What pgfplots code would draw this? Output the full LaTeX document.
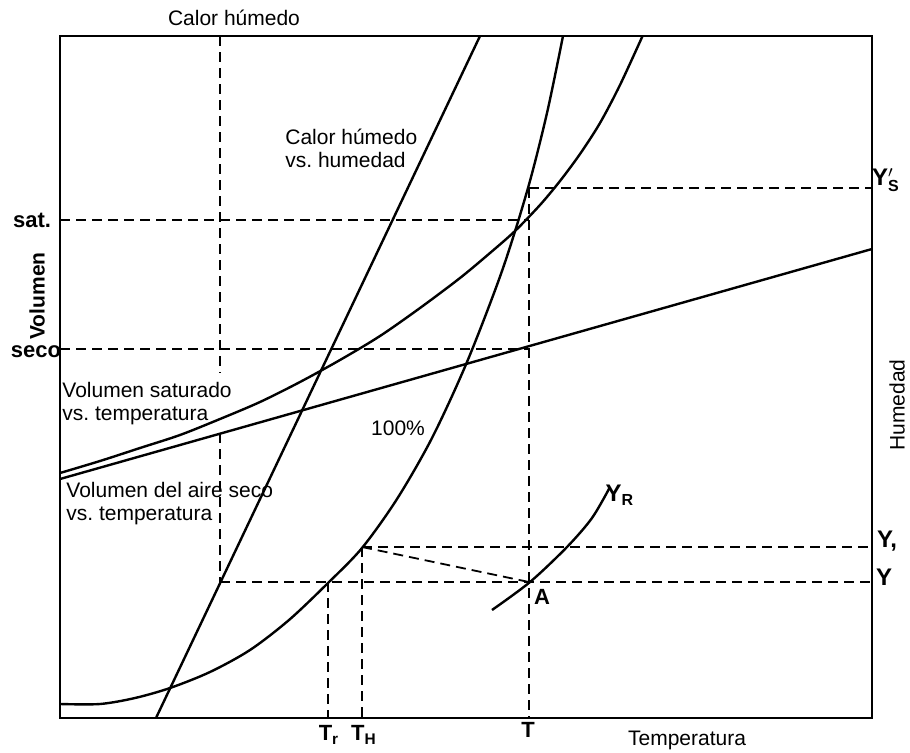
\documentclass[border=0pt]{standalone}
\usepackage{fontspec}
\setmainfont{Liberation Sans}
\usepackage{pgfplots}
\pgfplotsset{compat=1.18}
\begin{document}
\begin{tikzpicture}
\begin{axis}[
  scale only axis, width=406pt, height=341pt,
  xmin=60, xmax=872, ymin=34, ymax=716,
  xtick=\empty, ytick=\empty,
  axis line style={line width=1pt},
  clip mode=individual,
  every axis plot/.append style={black},
  curve/.style={line width=1.2pt, smooth},
  dsh/.style={line width=0.9pt, dash pattern=on 5pt off 3pt},
]
% bounding box of the whole picture (910 x 752)
\path (axis cs:0,0) rectangle (axis cs:910,752);

% humid heat line
\addplot[curve] coordinates {(156,34) (480,716)};
% 100% saturation curve
\addplot[curve] coordinates {(60,48) (100,48) (135,54) (170,64) (210,80) (250,102) (289,132) (328,169) (362,204) (397,253) (432,314) (467,390) (502,481) (528,564) (547,639) (563,716)};
% saturated volume curve
\addplot[curve] coordinates {(60,279) (100,291) (140,304) (180,317) (220,333) (260,350) (300,370) (340,392) (380,416) (420,444) (460,474) (490,499) (515,521) (540,547) (560,571) (580,598) (600,629) (620,667) (643,717)};
% dry air volume line
\addplot[curve] coordinates {(60,273) (872,503)};
% Y_R curve
\addplot[curve] coordinates {(492,142) (530,170) (567,205) (592,234) (610,265)};

% dashed construction lines
\addplot[dsh] coordinates {(220,716) (220,379)};
\addplot[dsh] coordinates {(220,319) (220,170)};
\addplot[dsh] coordinates {(60,532) (529,532)};
\addplot[dsh] coordinates {(60,403) (529,403)};
\addplot[dsh] coordinates {(529,564) (529,34)};
\addplot[dsh] coordinates {(529,564) (872,564)};
\addplot[dsh] coordinates {(220,170) (872,170)};
\addplot[dsh] coordinates {(362,205) (872,205)};
\addplot[dsh] coordinates {(328,170) (328,34)};
\addplot[dsh] coordinates {(362,205) (362,34)};
\addplot[dsh] coordinates {(362,205) (529,170)};

% labels
\tikzset{lab/.style={font=\fontsize{10.5}{11.5}\selectfont, inner sep=0pt}}
\node[lab] at (axis cs:234,734) {Calor húmedo};
\node[lab, anchor=west, align=left] at (axis cs:285,604) {Calor húmedo\\vs.\ humedad};
\node[lab, font=\fontsize{11}{12}\selectfont\bfseries] at (axis cs:32,532) {sat.};
\node[lab, font=\fontsize{11}{12}\selectfont\bfseries] at (axis cs:36,400) {seco};
\node[lab, rotate=90, font=\fontsize{10.5}{11.5}\selectfont\bfseries] at (axis cs:37,456) {Volumen};
\node[lab, anchor=west, align=left] at (axis cs:62,348) {Volumen saturado\\vs.\ temperatura};
\node[lab, anchor=west, align=left] at (axis cs:66,248) {Volumen del aire seco\\vs.\ temperatura};
\node[lab] at (axis cs:398,324) {100\%};
\node[lab, rotate=90] at (axis cs:897,347) {Humedad};
\node[lab, font=\fontsize{12}{13}\selectfont\bfseries] at (axis cs:886,572) {$\mathbf{Y}^{\prime}_{\mathbf{S}}$};
\node[lab, font=\fontsize{12}{13}\selectfont\bfseries] at (axis cs:887,211) {Y,};
\node[lab, font=\fontsize{12}{13}\selectfont\bfseries] at (axis cs:884,175) {Y};
\node[lab, font=\fontsize{11}{12}\selectfont\bfseries] at (axis cs:542,155) {A};
\node[lab, font=\fontsize{12}{13}\selectfont\bfseries] at (axis cs:620,257) {Y\textsubscript{R}};
\node[lab, font=\fontsize{11}{12}\selectfont\bfseries] at (axis cs:329,17) {T\textsubscript{r}};
\node[lab, font=\fontsize{11}{12}\selectfont\bfseries] at (axis cs:364,17) {T\textsubscript{H}};
\node[lab, font=\fontsize{11}{12}\selectfont\bfseries] at (axis cs:528,22) {T};
\node[lab] at (axis cs:687,12) {Temperatura};
\end{axis}
\end{tikzpicture}
\end{document}
